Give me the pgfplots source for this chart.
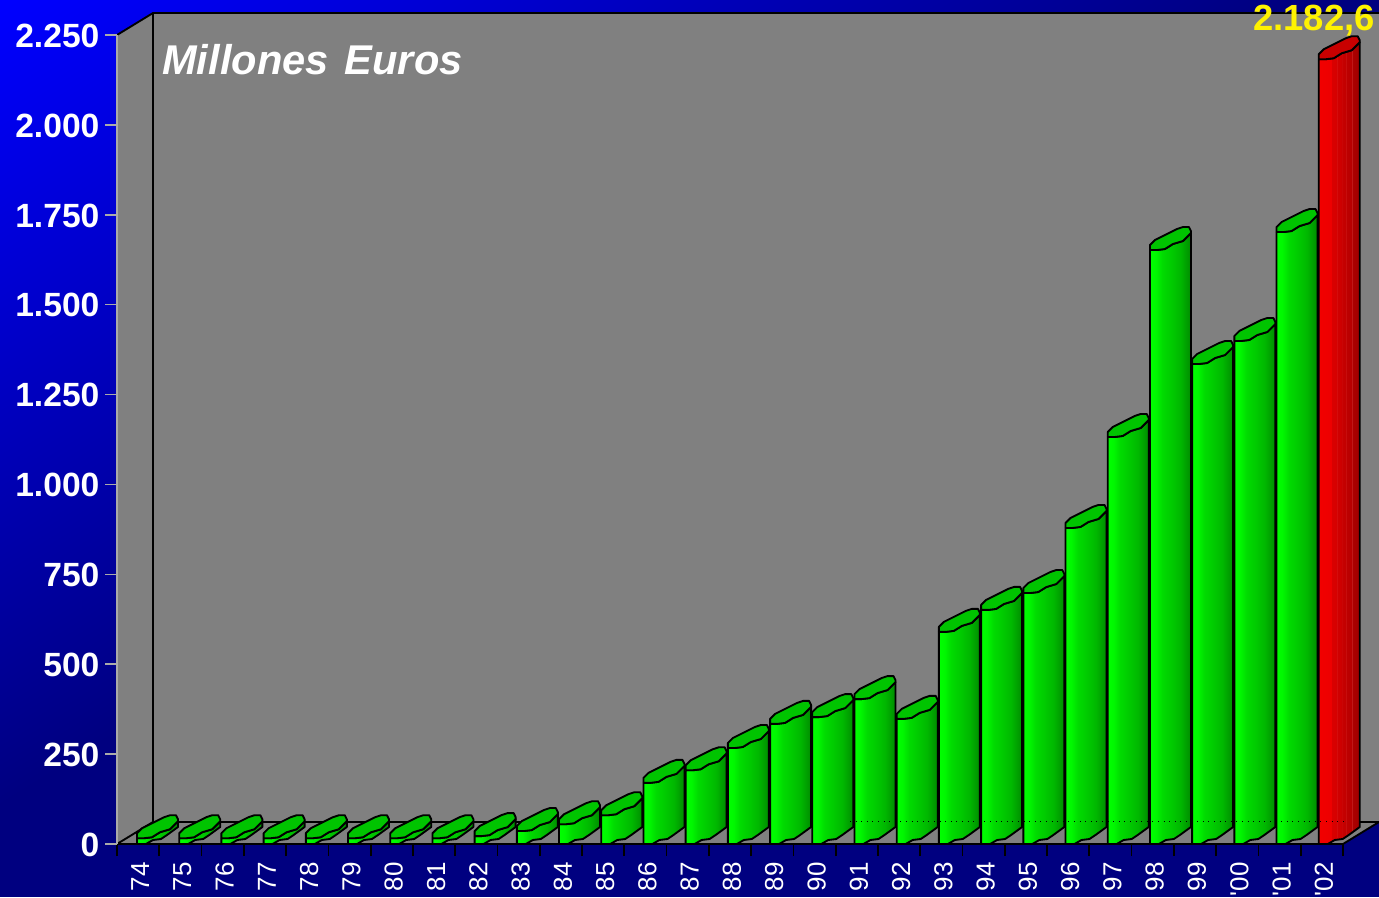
\documentclass[border=0pt]{standalone}
\usepackage{pgfplots}
\usepackage{pgfplotstable}
\usepackage{fontspec}
\setmainfont{Liberation Sans}
\pgfplotsset{compat=1.18}
\definecolor{wall}{RGB}{128,128,128}
\definecolor{tickgray}{RGB}{170,170,170}
\definecolor{capgreen}{RGB}{0,196,0}
\definecolor{capred}{RGB}{200,0,0}
\pgfdeclarehorizontalshading{greenbar}{100bp}{rgb(0bp)=(0,1,0);rgb(25bp)=(0,1,0);rgb(32bp)=(0,.97,0);rgb(40bp)=(0,.86,0);rgb(50bp)=(0,.80,0);rgb(62bp)=(0,.72,0);rgb(75bp)=(0,.55,0);rgb(100bp)=(0,.55,0)}
\pgfdeclarehorizontalshading{redbar}{100bp}{rgb(0bp)=(.95,0,0);rgb(25bp)=(.95,0,0);rgb(40bp)=(.93,0,0);rgb(40.8bp)=(.87,.1,.1);rgb(41.1bp)=(.85,0,0);rgb(46.5bp)=(.84,0,0);rgb(47bp)=(.86,.12,.12);rgb(47.4bp)=(.82,0,0);rgb(52.5bp)=(.80,0,0);rgb(53bp)=(.84,.12,.12);rgb(53.4bp)=(.78,0,0);rgb(58bp)=(.76,0,0);rgb(58.5bp)=(.80,.12,.12);rgb(58.9bp)=(.74,0,0);rgb(65bp)=(.72,0,0);rgb(65.5bp)=(.76,.1,.1);rgb(65.9bp)=(.68,0,0);rgb(75bp)=(.62,0,0);rgb(100bp)=(.62,0,0)}
% value of each year (axis units: millions of euros)
\pgfplotstableread{
i v
0 16
1 16
2 16
3 16
4 16
5 16
6 16
7 16
8 22
9 36
10 55
11 80
12 170
13 205
14 267
15 334
16 353
17 403
18 348
19 590
20 651
21 698
22 879
23 1132
24 1652
25 1335
26 1399
27 1702
28 2182.6
}\valtable
% outline of a bar in pixels relative to its front-left foot/top
\pgfplotstableread{
dx dy top
0 0 1
7 0 1
15 1 1
23 6 1
33 9 1
41 17 1
41 17 0
30 9 0
24 5 0
16 4 0
9 0 0
0 0 0
0 0 1
}\bodyshape
\pgfplotstableread{
dx dy
0 0
7 0
15 1
23 6
33 9
41 17
41 19
39 23
33 23
27 21
17 16
5 10
0 5
0 0
}\capshape
\newcommand\DrawBar[4]{%
  \addplot[draw=black,line width=1.4pt,line join=round,shade,shading=#3]
    table[x expr={#1*0.99834+0.473+\thisrow{dx}/42.276},y expr={\thisrow{top}*#2+\thisrow{dy}/0.35956}]{\bodyshape};
  \addplot[draw=black,line width=1.4pt,line join=round,fill=#4]
    table[x expr={#1*0.99834+0.473+\thisrow{dx}/42.276},y expr={#2+\thisrow{dy}/0.35956}]{\capshape};
}
\begin{document}
\begin{tikzpicture}
\begin{scope}[x=.75pt,y=-.75pt,yshift=672.75pt]
  \path[use as bounding box] (0,0) rectangle (1379,897);
  \fill[fill={rgb,255:red,0;green,0;blue,128}] (0,0) rectangle (1379,897);
  \foreach \k in {127,126,...,0}{
    \pgfmathsetmacro\sx{10.15625*(\k+1)}
    \pgfmathsetmacro\sy{6.328*(\k+1)}
    \pgfmathtruncatemacro\bl{255-\k}
    \fill[fill={rgb,255:red,0;green,0;blue,\bl}] (0,0) -- (\sx,0) -- (0,\sy) -- cycle;
  }
  \fill[wall] (117,35) -- (153,13) -- (1379,13) -- (1379,822) -- (1343,844) -- (117,844) -- cycle;
  \draw[black,line width=1.4pt] (117,35) -- (153,13) -- (1379,13);
  \draw[black,line width=1.4pt] (153,13) -- (153,822) -- (1379,822);
  \draw[black,line width=1.4pt] (117,844) -- (153,822);
  \draw[black,line width=1.4pt] (1343,844) -- (1379,822);
\end{scope}
\begin{axis}[
  at={(87.75pt,39.75pt)},anchor=south west,
  scale only axis,width=919.5pt,height=606.75pt,
  xmin=0,xmax=29,ymin=0,ymax=2250,clip=false,
  axis lines=left,
  x axis line style={-,black,line width=1.5pt},
  y axis line style={-,tickgray,line width=1.5pt},
  tick align=outside,major tick length=9pt,
  xtick={0,...,29},
  ytick={0,250,...,2250},
  x tick label as interval,
  xticklabels={74,75,76,77,78,79,80,81,82,83,84,85,86,87,88,89,90,91,92,93,94,95,96,97,98,99,\textquotesingle00,\textquotesingle01,\textquotesingle02},
  xtick style={black,line width=1.3pt},
  ytick style={tickgray,line width=1.2pt},
  xticklabel style={font=\fontsize{19.5}{19.5}\selectfont,text=white,rotate=90,anchor=east,inner sep=0pt,yshift=-1.5pt,xshift=-4.5pt},
  yticklabel style={font=\fontsize{25.2}{25.2}\selectfont\bfseries,text=white,anchor=east,inner sep=0pt,xshift=-4pt,yshift=-.5pt,
    /pgf/number format/assume math mode=true,/pgf/number format/1000 sep={.}},
]
\pgfplotsinvokeforeach{0,...,27}{%
  \pgfplotstablegetelem{#1}{v}\of\valtable
  \edef\tmp{\noexpand\DrawBar{#1}{\pgfplotsretval}{greenbar}{capgreen}}\tmp
}
\pgfplotstablegetelem{28}{v}\of\valtable
\edef\tmp{\noexpand\DrawBar{28}{\pgfplotsretval}{redbar}{capred}}\tmp
\end{axis}
\begin{scope}[x=.75pt,y=-.75pt,yshift=672.75pt]
  \draw[black,line width=.5pt,dash pattern=on .8pt off 3.4pt] (850,821) -- (1345,821);
  \node[anchor=west,inner sep=0pt,text=white,font=\fontsize{31.2}{31.2}\selectfont\bfseries\itshape] at (162,60) {Millones\hspace{12pt}Euros};
  \node[anchor=east,inner sep=0pt,text=yellow,font=\fontsize{27.3}{27.3}\selectfont\bfseries] at (1375,21) {2.182,6};
\end{scope}
\end{tikzpicture}
\end{document}
